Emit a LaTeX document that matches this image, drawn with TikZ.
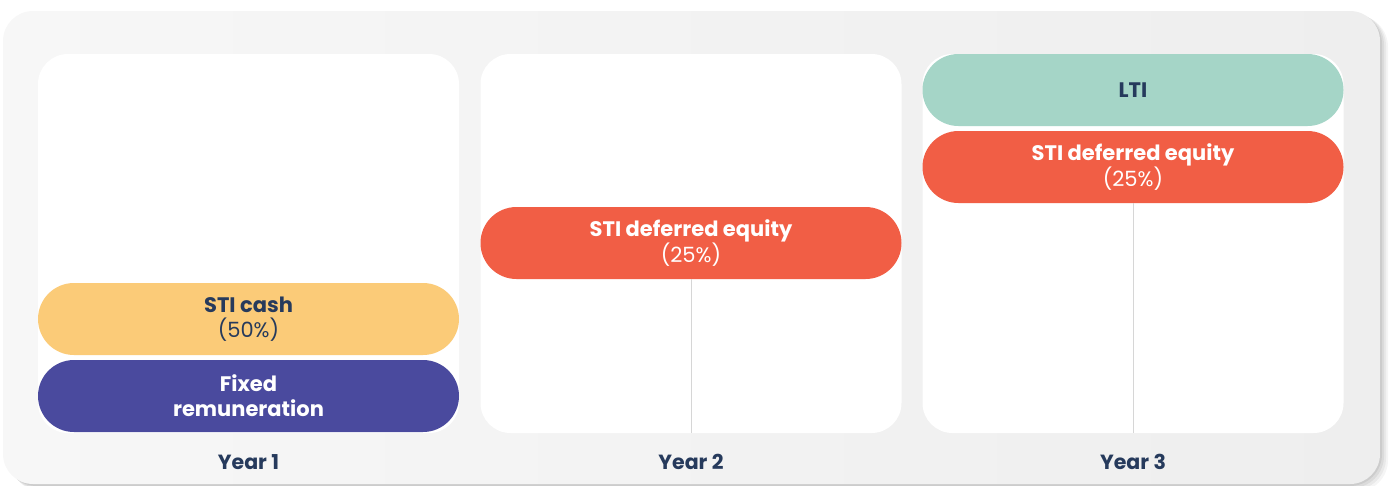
\documentclass[tikz,border=0pt]{standalone}
\usepackage{fontspec}
\setmainfont{Poppins}
\definecolor{navy}{HTML}{263A5C}
\definecolor{cashY}{HTML}{FBCB78}
\definecolor{fixedP}{HTML}{4A4A9E}
\definecolor{stiR}{HTML}{F15E45}
\definecolor{ltiG}{HTML}{A5D5C7}
\definecolor{outerL}{HTML}{F7F7F7}
\definecolor{outerR}{HTML}{EEEEEE}
\definecolor{vline}{HTML}{D6D6D6}
\begin{document}
\begin{tikzpicture}[x=1pt,y=-1pt,
  panel/.style={fill=white, rounded corners=30pt, minimum width=421pt, minimum height=379pt, inner sep=0pt, outer sep=0pt},
  pill/.style={rounded corners=36pt, minimum width=421pt, minimum height=72pt, inner sep=0pt, outer sep=0pt, align=center, font=\fontsize{21}{25}\selectfont},
  yearlbl/.style={text=navy, font=\fontsize{20.5}{24}\selectfont\bfseries},
  stem/.style={draw=vline, line width=1pt}]
\useasboundingbox (0,0) rectangle (1395,485);
% shadow
\foreach \o/\a in {8/0.04,6/0.05,4/0.06,2/0.07}{
  \fill[black, opacity=\a, rounded corners=32pt] (3+\o,11+\o*0.5) rectangle (1380+\o,484+\o);
}
\shade[left color=outerL, right color=outerR, rounded corners=30pt] (3,11) rectangle (1380,484);
% panels
\node[panel] (p1) at (248.5,243.5) {};
\node[panel] (p2) at (691,243.5) {};
\node[panel] (p3) at (1133,243.5) {};
% pills
\node[pill, fill=cashY, text=navy] (cash) at (248.5,319) {\textbf{STI cash}\\(50\%)};
\node[pill, fill=fixedP, text=white] (fixed) at (248.5,396) {\textbf{Fixed}\\\textbf{remuneration}};
\node[pill, fill=stiR, text=white] (sti2) at (691,243) {\textbf{STI deferred equity}\\(25\%)};
\node[pill, fill=ltiG, text=navy] (lti) at (1133,90) {\textbf{LTI}};
\node[pill, fill=stiR, text=white] (sti3) at (1133,167) {\textbf{STI deferred equity}\\(25\%)};
% stems
\draw[stem] (sti2.south) -- (p2.south);
\draw[stem] (sti3.south) -- (p3.south);
% year labels
\node[yearlbl] (y1) at (248.5,462) {Year 1};
\node[yearlbl] (y2) at (691,462) {Year 2};
\node[yearlbl] (y3) at (1133,462) {Year 3};
\end{tikzpicture}
\end{document}
